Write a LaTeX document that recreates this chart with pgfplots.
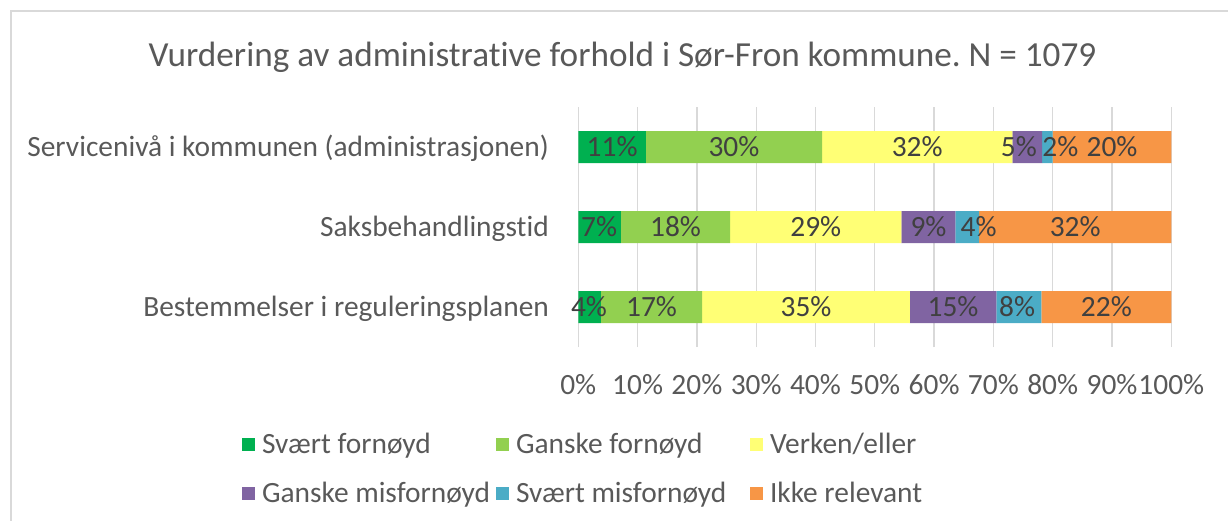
\documentclass[border=0pt]{standalone}
\usepackage{pgfplots}
\pgfplotsset{compat=1.18}
\usepackage{pgfplotstable}
\usepackage{fontspec}
\setmainfont{Carlito}[Ligatures=NoCommon]
\definecolor{c1}{HTML}{00B050}
\definecolor{c2}{HTML}{92D050}
\definecolor{c3}{HTML}{FFFF75}
\definecolor{c4}{HTML}{8064A2}
\definecolor{c5}{HTML}{4BACC6}
\definecolor{c6}{HTML}{F79646}
\definecolor{gridgray}{HTML}{D9D9D9}
\definecolor{txtgray}{HTML}{595959}
\definecolor{labgray}{HTML}{404040}
\newcommand{\lf}{\fontsize{29.4bp}{32bp}\selectfont}
\frenchspacing

\pgfplotstableread{
y s1 s2 s3 s4 s5 s6
0 3.8 17.1 35.0 14.6 7.6 21.9
1 7.2 18.4 28.9 9.1 4.0 32.4
2 11.4 29.7 32.1 5.0 1.8 20.0
}\datatable

\pgfplotstableread{
x y lab
5.7 2 11
26.25 2 30
57.15 2 32
74.3 2 5
81.3 2 2
90.0 2 20
3.5 1 7
16.4 1 18
40.05 1 29
59.05 1 9
67.5 1 4
83.8 1 32
1.8 0 4
12.35 0 17
38.4 0 35
63.2 0 15
74.0 0 8
89.05 0 22
}\labtable

\begin{document}
\begin{tikzpicture}
\useasboundingbox (0bp,0bp) rectangle (1228bp,-521bp);
\draw[gridgray, line width=1.5bp] (10.75bp,-521bp) -- (10.75bp,-11bp) -- (1228bp,-11bp);
\begin{axis}[
  at={(578.3bp,-347bp)}, anchor=south west,
  scale only axis, width=593bp, height=240bp,
  xbar stacked, bar width=32bp,
  xmin=0, xmax=100, ymin=-0.5, ymax=2.5,
  xtick={0,10,...,100},
  ytick={0,1,2},
  yticklabels={Bestemmelser i reguleringsplanen, Saksbehandlingstid, Servicenivå i kommunen (administrasjonen)},
  xticklabel={\pgfmathprintnumber{\tick}\%},
  /pgf/number format/assume math mode=true,
  axis line style={draw=none},
  major tick length=0pt,
  xmajorgrids, grid style={line width=1.3bp, gridgray},
  xticklabel style={font=\lf, text=txtgray, anchor=base, yshift=-47bp, inner sep=0pt},
  yticklabel style={font=\lf, text=txtgray, anchor=base east, inner sep=0pt, xshift=-29.3bp, yshift=-9.5bp},
  every axis plot/.append style={legend image code/.code={\fill[##1] (0bp,-6.5bp) rectangle (13bp,6.5bp);}},
  legend columns=3,
  legend cell align=left,
  legend style={draw=none, fill=none, inner sep=0pt, outer sep=0pt,
    at={(-0.5671,-0.3438)}, anchor=north west, font=\lf, text=txtgray,
    nodes={inner sep=0pt, text height=24bp, text depth=5bp},
    row sep=20bp,
    /tikz/every odd column/.append style={column sep=7bp}},
]
\addplot[fill=c1, draw=none] table[x=s1, y=y] {\datatable};
\addlegendentry{\makebox[234bp][l]{Svært fornøyd}}
\addplot[fill=c2, draw=none] table[x=s2, y=y] {\datatable};
\addlegendentry{\makebox[234bp][l]{Ganske fornøyd}}
\addplot[fill=c3, draw=none] table[x=s3, y=y] {\datatable};
\addlegendentry{\makebox[234bp][l]{Verken/eller}}
\addplot[fill=c4, draw=none] table[x=s4, y=y] {\datatable};
\addlegendentry{\makebox[234bp][l]{Ganske misfornøyd}}
\addplot[fill=c5, draw=none] table[x=s5, y=y] {\datatable};
\addlegendentry{\makebox[234bp][l]{Svært misfornøyd}}
\addplot[fill=c6, draw=none] table[x=s6, y=y] {\datatable};
\addlegendentry{\makebox[234bp][l]{Ikke relevant}}
\end{axis}
\begin{axis}[
  at={(578.3bp,-347bp)}, anchor=south west,
  scale only axis, width=593bp, height=240bp,
  xmin=0, xmax=100, ymin=-0.5, ymax=2.5,
  hide axis,
]
\addplot[draw=none, mark=none, nodes near coords={\pgfplotspointmeta\%},
  point meta=explicit symbolic,
  every node near coord/.style={anchor=center, font=\lf, text=labgray, inner sep=0pt}]
  table[x=x, y=y, meta=lab] {\labtable};
\end{axis}
\node[anchor=base, font=\fontsize{35.2bp}{40bp}\selectfont, text=txtgray] at (622.5bp,-66bp) {Vurdering av administrative forhold i Sør-Fron kommune. N = 1079};
\end{tikzpicture}
\end{document}
